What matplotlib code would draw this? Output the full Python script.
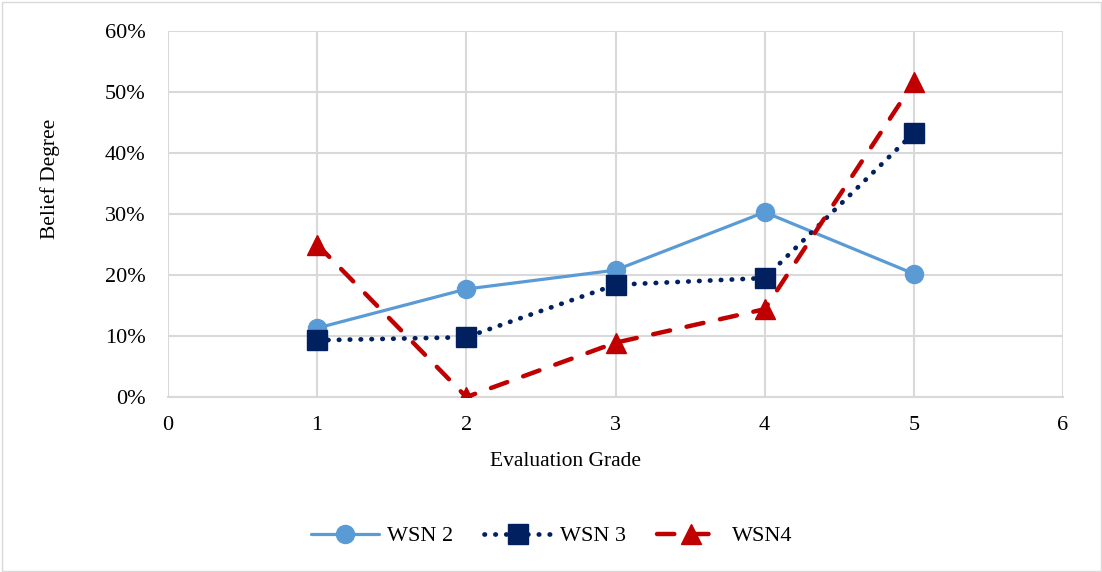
import matplotlib
matplotlib.use("Agg")
import matplotlib.pyplot as plt
from matplotlib.patches import Rectangle

grades = [1, 2, 3, 4, 5]
wsn2 = [0.113, 0.177, 0.208, 0.303, 0.202]
wsn3 = [0.093, 0.098, 0.184, 0.195, 0.433]
wsn4 = [0.250, 0.000, 0.089, 0.144, 0.516]
series_names = ["WSN 2", "WSN 3", "WSN4"]
x_ticks = [0, 1, 2, 3, 4, 5, 6]
y_ticks = [0, 0.1, 0.2, 0.3, 0.4, 0.5, 0.6]

plt.rcParams['font.family'] = ['Liberation Serif', 'DejaVu Serif']

fig = plt.figure(figsize=(11.02, 5.72), dpi=100)
ax = fig.add_axes([168/1102, 1-397/572, (1063-168)/1102, (397-31)/572])

fig.patches.append(Rectangle((1.5/1102, 1.5/572), 1-3/1102, 1-3/572, transform=fig.transFigure,
                             fill=False, edgecolor='#d9d9d9', linewidth=1))

ax.plot(grades, wsn2, color='#5B9BD5', lw=2.3, marker='o', ms=13, label=series_names[0],
        solid_capstyle='round', zorder=3)
ax.plot(grades, wsn3, color='#002060', lw=3.4, linestyle=(0, (0.1, 2.2)), dash_capstyle='round',
        marker='s', ms=14.5, label=series_names[1], zorder=4)
ax.plot(grades, wsn4, color='#C00000', lw=3.2, linestyle=(0, (3.9, 3.8)), dash_capstyle='round',
        marker='^', ms=14, label=series_names[2], zorder=5)

ax.set_xlim(0, 6)
ax.set_ylim(0, 0.6)
ax.set_xticks(x_ticks)
ax.set_yticks(y_ticks)
ax.set_yticklabels([f"{int(round(v*100))}%" for v in y_ticks])
ax.grid(True, color='#d9d9d9', lw=1.5)
ax.set_axisbelow(True)
for s in ['top', 'right', 'left']:
    ax.spines[s].set_visible(False)
ax.spines['bottom'].set_color('#d9d9d9')
ax.spines['bottom'].set_linewidth(1.5)
ax.tick_params(length=0, labelsize=16, colors='black')
ax.tick_params(axis='y', pad=16)
ax.tick_params(axis='x', pad=14)
ax.set_xlabel("Evaluation Grade", fontsize=15.5)
ax.set_ylabel("Belief Degree", fontsize=15.5)
ax.xaxis.set_label_coords((566-168)/895, (397-462)/366)
ax.yaxis.set_label_coords((50-168)/895, (397-179)/366)
ax.xaxis.label.set_va('center')
ax.yaxis.label.set_va('center')

fig.legend(loc='center', bbox_to_anchor=(552/1102, 1-536/572), ncol=3, frameon=False,
           fontsize=16, handlelength=3.05, columnspacing=1.4, handletextpad=0.35,
           borderpad=0, borderaxespad=0)

fig.savefig("out.png", dpi=100)
